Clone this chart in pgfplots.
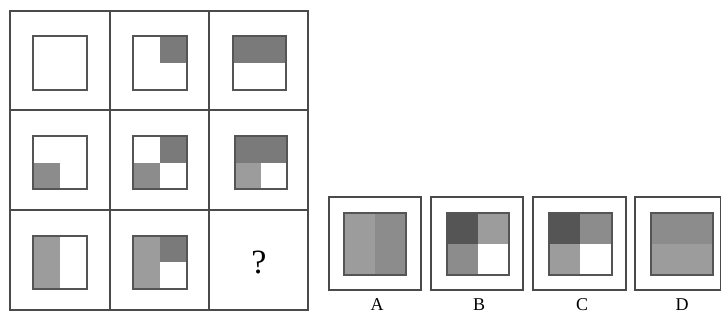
\documentclass[border=0pt]{standalone}
\usepackage{pgfplots}
\pgfplotsset{compat=1.18}
\usepackage{fontspec}
\setmainfont{Liberation Serif}
\definecolor{gline}{HTML}{4A4A4A}
\definecolor{sline}{HTML}{555555}
\definecolor{dk}{HTML}{7A7A7A}
\definecolor{md}{HTML}{8C8C8C}
\definecolor{lt}{HTML}{9C9C9C}
\definecolor{vd}{HTML}{555555}
\newcommand{\R}[5]{\addplot[#5] coordinates {(#1,#2) (#3,#2) (#3,#4) (#1,#4)} -- cycle;}
\newcommand{\F}[5]{\R{#1}{#2}{#3}{#4}{draw=none,fill=#5}}
\newcommand{\B}[4]{\R{#1}{#2}{#3}{#4}{draw=sline,line width=1.8pt,fill=none}}
\newcommand{\G}[4]{\R{#1}{#2}{#3}{#4}{draw=gline,line width=1.3pt,fill=none}}
\begin{document}
\begin{tikzpicture}
\begin{axis}[
  scale only axis, width=721pt, height=316pt,
  xmin=0, xmax=721, ymin=0, ymax=316, y dir=reverse,
  axis lines=box, axis line style={draw=none}, ticks=none,
  clip=true,
]
% grid
\G{10}{11}{308}{310}
\addplot[draw=gline,line width=1.3pt] coordinates {(110,11) (110,310)};
\addplot[draw=gline,line width=1.3pt] coordinates {(209,11) (209,310)};
\addplot[draw=gline,line width=1.3pt] coordinates {(10,110) (308,110)};
\addplot[draw=gline,line width=1.3pt] coordinates {(10,210) (308,210)};
% row 1
\B{33}{36}{87}{90}
\F{160}{36}{187}{63}{dk}
\B{133}{36}{187}{90}
\F{233}{36}{286}{63}{dk}
\B{233}{36}{286}{90}
% row 2
\F{33}{162.5}{60}{189}{md}
\B{33}{136}{87}{189}
\F{160}{136}{187}{162.5}{dk}
\F{133}{162.5}{160}{189}{md}
\B{133}{136}{187}{189}
\F{235}{136}{287}{162.5}{dk}
\F{235}{162.5}{261}{189}{lt}
\B{235}{136}{287}{189}
% row 3
\F{33}{236}{60}{289}{lt}
\B{33}{236}{87}{289}
\F{133}{236}{160}{289}{lt}
\F{160}{236}{187}{262}{dk}
\B{133}{236}{187}{289}
\node[font=\fontsize{34}{36}\selectfont] at (axis cs:259,262) {?};
% options
\G{329}{197}{421}{290}
\F{344}{213}{375}{275}{lt}
\F{375}{213}{406}{275}{md}
\B{344}{213}{406}{275}
\G{431}{197}{523}{290}
\F{447}{213}{478}{244}{vd}
\F{478}{213}{509}{244}{lt}
\F{447}{244}{478}{275}{md}
\B{447}{213}{509}{275}
\G{533}{197}{626}{290}
\F{549}{213}{580}{244}{vd}
\F{580}{213}{612}{244}{md}
\F{549}{244}{580}{275}{lt}
\B{549}{213}{612}{275}
\G{635}{197}{721}{290}
\F{651}{213}{713}{244}{md}
\F{651}{244}{713}{275}{lt}
\B{651}{213}{713}{275}
\node[font=\fontsize{18}{20}\selectfont] at (axis cs:377,305) {A};
\node[font=\fontsize{18}{20}\selectfont] at (axis cs:479,305) {B};
\node[font=\fontsize{18}{20}\selectfont] at (axis cs:582,305) {C};
\node[font=\fontsize{18}{20}\selectfont] at (axis cs:682,305) {D};
\end{axis}
\end{tikzpicture}
\end{document}
